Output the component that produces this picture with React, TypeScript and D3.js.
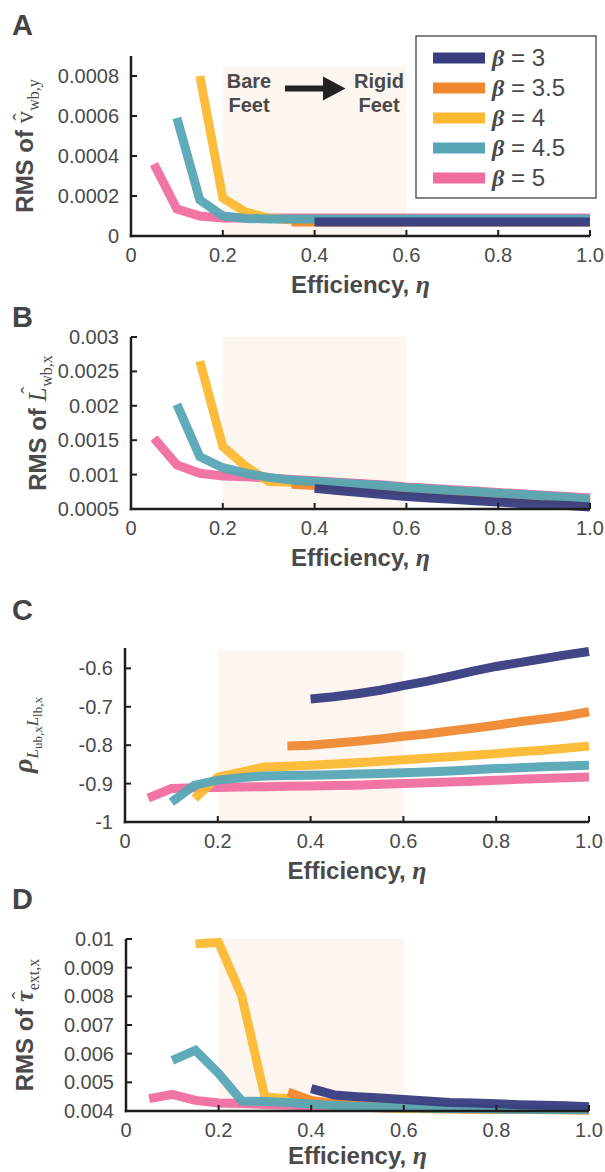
import React from 'react';
import * as d3 from 'd3';

// ---------- data ----------
const betaLabels = ['3', '3.5', '4', '4.5', '5'];
const seriesColors = ['#373d7f', '#f08830', '#fdb932', '#56a6b6', '#ef6d9f'];

const etaB3 = [0.4, 0.45, 0.5, 0.55, 0.6, 0.65, 0.7, 0.75, 0.8, 0.85, 0.9, 0.95, 1.0];
const etaB35 = [0.35, 0.4, 0.45, 0.5, 0.55, 0.6, 0.65, 0.7, 0.75, 0.8, 0.85, 0.9, 0.95, 1.0];
const etaB4 = [0.15, 0.2, 0.25, 0.3, 0.35, 0.4, 0.45, 0.5, 0.55, 0.6, 0.65, 0.7, 0.75, 0.8, 0.85, 0.9, 0.95, 1.0];
const etaB45 = [0.1, 0.15, 0.2, 0.25, 0.3, 0.35, 0.4, 0.45, 0.5, 0.55, 0.6, 0.65, 0.7, 0.75, 0.8, 0.85, 0.9, 0.95, 1.0];
const etaB5 = [0.05, 0.1, 0.15, 0.2, 0.25, 0.3, 0.35, 0.4, 0.45, 0.5, 0.55, 0.6, 0.65, 0.7, 0.75, 0.8, 0.85, 0.9, 0.95, 1.0];

// Panel A: RMS of v_wb,y
const aB3 = [0.00007, 0.00007, 0.00007, 0.00007, 0.00007, 0.00007, 0.00007, 0.00007, 0.00007, 0.00007, 0.00007, 0.00007, 0.00007];
const aB35 = [0.00007, 0.00007, 0.00007, 0.00007, 0.00007, 0.00007, 0.00007, 0.00007, 0.00007, 0.00007, 0.00007, 0.00007, 0.00007, 0.00007];
const aB4 = [0.0008, 0.00019, 0.00012, 0.00009, 0.00008, 0.00008, 0.00008, 0.00008, 0.00008, 0.00008, 0.00008, 0.00008, 0.00008, 0.00008, 0.00008, 0.00008, 0.00008, 0.00008];
const aB45 = [0.00059, 0.00018, 0.0001, 0.000088, 0.000085, 0.000085, 0.000085, 0.000085, 0.000085, 0.000085, 0.000085, 0.000085, 0.000085, 0.000085, 0.000085, 0.000085, 0.000085, 0.000085, 0.000085];
const aB5 = [0.00036, 0.000135, 0.0001, 0.00009, 0.00009, 0.00009, 0.00009, 0.00009, 0.00009, 0.00009, 0.00009, 0.00009, 0.00009, 0.00009, 0.00009, 0.00009, 0.00009, 0.00009, 0.00009, 0.00009];

// Panel B: RMS of L_wb,x
const bB3 = [0.0008, 0.00077, 0.00074, 0.00071, 0.00068, 0.00066, 0.00064, 0.00062, 0.0006, 0.00058, 0.00056, 0.00055, 0.00053];
const bB35 = [0.00086, 0.00084, 0.00082, 0.0008, 0.00078, 0.00076, 0.00074, 0.00072, 0.0007, 0.00068, 0.00066, 0.00064, 0.00062, 0.0006];
const bB4 = [0.00265, 0.00141, 0.00112, 0.0009, 0.00089, 0.00088, 0.00086, 0.00084, 0.00082, 0.0008, 0.00078, 0.00076, 0.00074, 0.00072, 0.0007, 0.00068, 0.00066, 0.00063];
const bB45 = [0.00202, 0.00126, 0.0011, 0.00102, 0.00096, 0.00092, 0.0009, 0.00088, 0.00086, 0.00084, 0.00081, 0.00079, 0.00077, 0.00075, 0.00073, 0.00071, 0.00069, 0.00067, 0.00064];
const bB5 = [0.00153, 0.00114, 0.00102, 0.00098, 0.00097, 0.00095, 0.00093, 0.00091, 0.00089, 0.00087, 0.00085, 0.00082, 0.0008, 0.00078, 0.00076, 0.00074, 0.00072, 0.0007, 0.00068, 0.00066];

// Panel C: correlation rho
const cB3 = [-0.68, -0.674, -0.666, -0.657, -0.645, -0.634, -0.621, -0.607, -0.595, -0.585, -0.575, -0.565, -0.556];
const cB35 = [-0.802, -0.8, -0.795, -0.79, -0.784, -0.777, -0.771, -0.763, -0.756, -0.748, -0.739, -0.732, -0.724, -0.713];
const cB4 = [-0.939, -0.883, -0.87, -0.857, -0.855, -0.852, -0.849, -0.846, -0.842, -0.838, -0.834, -0.83, -0.826, -0.822, -0.817, -0.813, -0.808, -0.802];
const cB45 = [-0.948, -0.904, -0.891, -0.885, -0.88, -0.879, -0.878, -0.877, -0.875, -0.874, -0.872, -0.87, -0.867, -0.864, -0.861, -0.859, -0.856, -0.854, -0.852];
const cB5 = [-0.938, -0.913, -0.911, -0.91, -0.909, -0.908, -0.907, -0.906, -0.905, -0.904, -0.902, -0.9, -0.898, -0.896, -0.894, -0.891, -0.889, -0.887, -0.885, -0.883];

// Panel D: RMS of tau_ext,x
const dB3 = [0.00478, 0.00456, 0.0045, 0.00445, 0.0044, 0.00435, 0.0043, 0.00428, 0.00425, 0.00422, 0.0042, 0.00418, 0.00415];
const dB35 = [0.00466, 0.00437, 0.00426, 0.0042, 0.00416, 0.00413, 0.00411, 0.00409, 0.00408, 0.00407, 0.00406, 0.00405, 0.00405, 0.00404];
const dB4 = [0.00983, 0.00988, 0.00801, 0.00449, 0.00443, 0.00425, 0.00418, 0.00414, 0.00411, 0.00409, 0.00408, 0.00407, 0.00406, 0.00405, 0.00405, 0.00404, 0.00404, 0.00403];
const dB45 = [0.00577, 0.00612, 0.00531, 0.00435, 0.00433, 0.0043, 0.00424, 0.00419, 0.00416, 0.00414, 0.00412, 0.0041, 0.00409, 0.00408, 0.00407, 0.00406, 0.00405, 0.00405, 0.00404];
const dB5 = [0.00443, 0.00458, 0.00437, 0.00428, 0.00426, 0.00423, 0.0042, 0.00417, 0.00415, 0.00413, 0.00411, 0.0041, 0.00409, 0.00408, 0.00407, 0.00406, 0.00405, 0.00405, 0.00404, 0.00404];

const xTicks = [0, 0.2, 0.4, 0.6, 0.8, 1.0];
const xTickLabels = ['0', '0.2', '0.4', '0.6', '0.8', '1.0'];

const aTicks = [0, 0.0002, 0.0004, 0.0006, 0.0008];
const aTickLabels = ['0', '0.0002', '0.0004', '0.0006', '0.0008'];
const bTicks = [0.0005, 0.001, 0.0015, 0.002, 0.0025, 0.003];
const bTickLabels = ['0.0005', '0.001', '0.0015', '0.002', '0.0025', '0.003'];
const cTicks = [-1, -0.9, -0.8, -0.7, -0.6];
const cTickLabels = ['-1', '-0.9', '-0.8', '-0.7', '-0.6'];
const dTicks = [0.004, 0.005, 0.006, 0.007, 0.008, 0.009, 0.01];
const dTickLabels = ['0.004', '0.005', '0.006', '0.007', '0.008', '0.009', '0.01'];

const shadeRange = [0.2, 0.6];

// ---------- styling ----------
const SANS = '"Liberation Sans", Arial, Helvetica, sans-serif';
const SERIF = '"Liberation Serif", "Times New Roman", serif';
const TXT = '#4a4a4a';
const AX = '#1e1e1e';
const SHADE = '#fdf5ef';
const LW = 9;

type PanelCfg = {
  letter: string;
  letterY: number;
  left: number;
  right: number;
  top: number;
  bottom: number;
  yDomain: [number, number];
  yTicks: number[];
  yTickLabels: string[];
  shadeTop: number;
  series: number[][];
  ylabelX: number;
  xlabelDy: number;
  ylabel: React.ReactNode;
};

const etas = [etaB3, etaB35, etaB4, etaB45, etaB5];
const drawOrder = [4, 2, 1, 3, 0];

// symbol followed by a separately placed hat, then a subscript
const rmsLabel = (
  sym: string,
  sub: string,
  symItalic: boolean,
  symBold: boolean,
  hatDx: number,
  hatDy: number,
  subDx: number,
) => (
  <>
    <tspan fontFamily={SANS} fontWeight="bold">RMS of </tspan>
    <tspan fontFamily={SERIF} fontStyle={symItalic ? 'italic' : 'normal'} fontWeight={symBold ? 'bold' : 'normal'} fontSize={25}>{sym}</tspan>
    <tspan fontFamily={SERIF} fontSize={22} dx={hatDx} dy={hatDy}>{'\u02C6'}</tspan>
    <tspan fontFamily={SERIF} fontSize={16} dx={subDx} dy={6 - hatDy}>{sub}</tspan>
  </>
);

const panels: PanelCfg[] = [
  {
    letter: 'A', letterY: 35, left: 131, right: 590, top: 56, bottom: 236,
    yDomain: [0, 0.0009], yTicks: aTicks, yTickLabels: aTickLabels, shadeTop: 0.00085,
    series: [aB3, aB35, aB4, aB45, aB5], ylabelX: 33, xlabelDy: 57,
    ylabel: rmsLabel('v', 'wb,y', false, false, -9.9, -5, 2.6),
  },
  {
    letter: 'B', letterY: 327, left: 131, right: 590, top: 337, bottom: 509,
    yDomain: [0.0005, 0.003], yTicks: bTicks, yTickLabels: bTickLabels, shadeTop: 0.003,
    series: [bB3, bB35, bB4, bB45, bB5], ylabelX: 46, xlabelDy: 57,
    ylabel: rmsLabel('L', 'wb,x', true, false, -6.5, -10, 0),
  },
  {
    letter: 'C', letterY: 620, left: 125, right: 589, top: 648, bottom: 822,
    yDomain: [-1, -0.547], yTicks: cTicks, yTickLabels: cTickLabels, shadeTop: -0.552,
    series: [cB3, cB35, cB4, cB45, cB5], ylabelX: 32, xlabelDy: 57,
    ylabel: (
      <>
        <tspan fontFamily={SERIF} fontStyle="italic" fontWeight="bold" fontSize={28}>ρ</tspan>
        <tspan fontFamily={SERIF} fontStyle="italic" fontSize={17} dy={6}>L</tspan>
        <tspan fontFamily={SERIF} fontSize={13} dy={4}>ub,x</tspan>
        <tspan fontFamily={SERIF} fontStyle="italic" fontSize={17} dy={-4}>L</tspan>
        <tspan fontFamily={SERIF} fontSize={13} dy={4}>lb,x</tspan>
      </>
    ),
  },
  {
    letter: 'D', letterY: 909, left: 126, right: 589, top: 939, bottom: 1111,
    yDomain: [0.004, 0.01], yTicks: dTicks, yTickLabels: dTickLabels, shadeTop: 0.01,
    series: [dB3, dB35, dB4, dB45, dB5], ylabelX: 33, xlabelDy: 53,
    ylabel: rmsLabel('τ', 'ext,x', true, true, -8.4, -6, 1.6),
  },
];

function Panel({ cfg }: { cfg: PanelCfg }) {
  const x = d3.scaleLinear().domain([0, 1]).range([cfg.left, cfg.right]);
  const y = d3.scaleLinear().domain(cfg.yDomain).range([cfg.bottom, cfg.top]);
  const line = d3
    .line<[number, number]>()
    .x((d) => x(d[0]))
    .y((d) => y(d[1]));
  const cy = (cfg.top + cfg.bottom) / 2;
  const cx = (cfg.left + cfg.right) / 2;
  return (
    <g>
      <text x={12} y={cfg.letterY} fontFamily={SANS} fontWeight="bold" fontSize={29} fill="#444">
        {cfg.letter}
      </text>
      <rect
        x={x(shadeRange[0])}
        y={y(cfg.shadeTop)}
        width={x(shadeRange[1]) - x(shadeRange[0])}
        height={cfg.bottom - y(cfg.shadeTop)}
        fill={SHADE}
      />
      {drawOrder.map((i) => {
        const pts: [number, number][] = etas[i].map((e, k) => [e, cfg.series[i][k]]);
        return (
          <path
            key={i}
            d={line(pts) || ''}
            fill="none"
            stroke={seriesColors[i]}
            strokeWidth={LW}
            strokeLinejoin="miter"
            strokeLinecap="butt"
            opacity={0.95}
          />
        );
      })}
      {/* axes */}
      <line x1={cfg.left} x2={cfg.left} y1={cfg.top} y2={cfg.bottom + 1.25} stroke={AX} strokeWidth={2.5} />
      <line x1={cfg.left - 1.25} x2={cfg.right} y1={cfg.bottom} y2={cfg.bottom} stroke={AX} strokeWidth={2.5} />
      {cfg.yTicks.map((t, k) => (
        <g key={'y' + k}>
          <line x1={cfg.left} x2={cfg.left + 6} y1={y(t)} y2={y(t)} stroke={AX} strokeWidth={2} />
          <text x={cfg.left - 12} y={y(t) + 7} textAnchor="end" fontFamily={SANS} fontSize={20} fill={TXT}>
            {cfg.yTickLabels[k]}
          </text>
        </g>
      ))}
      {xTicks.map((t, k) => (
        <g key={'x' + k}>
          <line x1={x(t)} x2={x(t)} y1={cfg.bottom} y2={cfg.bottom - 6} stroke={AX} strokeWidth={2} />
          <text x={x(t)} y={cfg.bottom + 26} textAnchor="middle" fontFamily={SANS} fontSize={20} fill={TXT}>
            {xTickLabels[k]}
          </text>
        </g>
      ))}
      <text x={cx} y={cfg.bottom + cfg.xlabelDy} textAnchor="middle" fill={TXT} fontSize={24}>
        <tspan fontFamily={SANS} fontWeight="bold">Efficiency, </tspan>
        <tspan fontFamily={SERIF} fontWeight="bold" fontStyle="italic" fontSize={26}>η</tspan>
      </text>
      <text
        transform={`translate(${cfg.ylabelX},${cy}) rotate(-90)`}
        textAnchor="middle"
        fill={TXT}
        fontSize={24}
      >
        {cfg.ylabel}
      </text>
    </g>
  );
}

function Legend() {
  const rows = [0, 1, 2, 3, 4];
  return (
    <g>
      <rect x={416} y={36} width={180} height={162} fill="#fff" stroke="#444" strokeWidth={1.3} />
      {rows.map((i) => {
        const ry = 58 + i * 30;
        return (
          <g key={i}>
            <rect x={433} y={ry - 5.5} width={52} height={11} fill={seriesColors[i]} />
            <text x={492} y={ry + 8} fill={TXT} fontSize={24}>
              <tspan fontFamily={SERIF} fontWeight="bold" fontStyle="italic">β</tspan>
              <tspan fontFamily={SANS}>{' = ' + betaLabels[i]}</tspan>
            </text>
          </g>
        );
      })}
    </g>
  );
}

function Annotation() {
  return (
    <g fill={TXT} fontFamily={SANS} fontWeight="bold" fontSize={20}>
      <text x={249} y={88} textAnchor="middle">Bare</text>
      <text x={249} y={112} textAnchor="middle">Feet</text>
      <text x={379} y={88} textAnchor="middle">Rigid</text>
      <text x={379} y={112} textAnchor="middle">Feet</text>
      <line x1={285} x2={325} y1={88.5} y2={88.5} stroke="#222" strokeWidth={6} />
      <path d="M323,76.5 L345.5,88.5 L323,100.5 Z" fill="#222" />
    </g>
  );
}

export default function App() {
  return (
    <svg
      width={605}
      height={1172}
      viewBox="0 0 605 1172"
      style={{ position: 'absolute', left: 0, top: 0, background: '#fff' }}
    >
      <rect x={0} y={0} width={605} height={1172} fill="#fff" />
      {panels.map((p) => (
        <Panel key={p.letter} cfg={p} />
      ))}
      <Annotation />
      <Legend />
    </svg>
  );
}
